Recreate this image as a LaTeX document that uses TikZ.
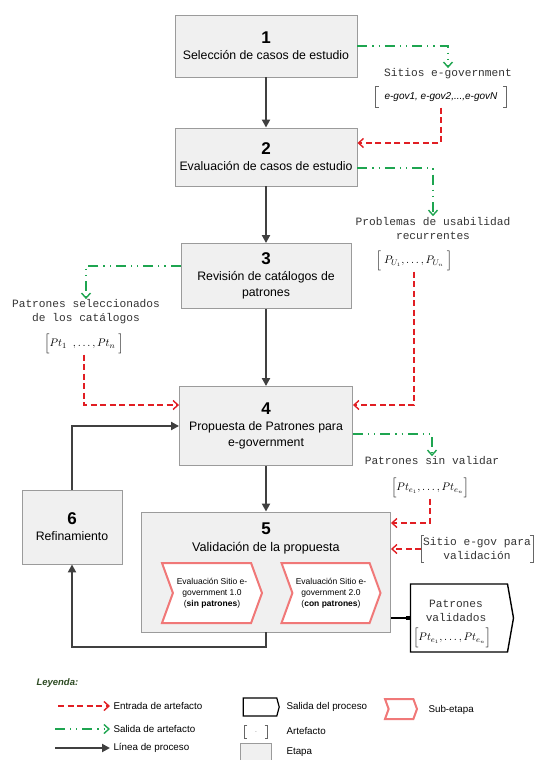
\documentclass[tikz,border=0pt]{standalone}
\usepackage{amsmath}
\usepackage{fontspec}
\setmainfont{Liberation Sans}
\setmonofont{Liberation Mono}
\usetikzlibrary{positioning, arrows.meta, calc, shapes.symbols}
\definecolor{etapagris}{RGB}{240,240,240}
\definecolor{bordegris}{RGB}{155,155,155}
\definecolor{procgris}{RGB}{64,64,64}
\definecolor{entradarojo}{RGB}{225,30,35}
\definecolor{salidaverde}{RGB}{30,165,80}
\definecolor{subrosa}{RGB}{240,120,120}
\definecolor{leyendaverde}{RGB}{45,75,35}
\newcommand{\Num}[1]{{\fontsize{17}{20}\selectfont\bfseries #1}}
\newcommand{\Corchetes}[1]{%
  \draw[black!60, line width=0.8pt] ([xshift=3pt]#1.north west) -- (#1.north west) -- (#1.south west) -- ([xshift=3pt]#1.south west);
  \draw[black!60, line width=0.8pt] ([xshift=-3pt]#1.north east) -- (#1.north east) -- (#1.south east) -- ([xshift=-3pt]#1.south east);}

\begin{document}
\begin{tikzpicture}[x=1pt, y=-1pt,
        etapa/.style={draw=bordegris, line width=0.9pt, fill=etapagris, align=center, font=\fontsize{12.3}{16}\selectfont},
        artefacto/.style={font=\fontsize{11.2}{14}\ttfamily, align=center, text=black!80, inner sep=0.5pt},
        lista/.style={inner sep=0.5pt, font=\fontsize{11}{13}\selectfont},
        proceso/.style={draw=procgris, line width=2pt, -{Triangle[length=8pt,width=8pt]}},
        entrada/.style={draw=entradarojo, line width=1.4pt, dash pattern=on 6pt off 3.5pt, -{Straight Barb[length=5pt,width=9pt]}},
        salida/.style={draw=salidaverde, line width=1.4pt, dash pattern=on 10pt off 5pt on 1.2pt off 5pt on 1.2pt off 5pt, -{Straight Barb[length=5pt,width=9pt]}},
        subetapa/.style={signal, signal from=west, signal to=east, signal pointer angle=140, draw=subrosa, line width=2pt, fill=white, align=center, inner sep=0pt, font=\fontsize{8.5}{11}\selectfont},
        salproc/.style={signal, signal to=east, signal pointer angle=160, draw=black, line width=1.4pt, fill=white},
        ley/.style={font=\fontsize{9.8}{11}\selectfont, anchor=west}]
        \useasboundingbox (0,0) rectangle (539,760);
        \node[etapa, minimum width=182pt, minimum height=62pt] (b1) at (266,46) {\Num{1}\\Selección de casos de estudio};
        \node[etapa, minimum width=182pt, minimum height=58pt] (b2) at (266,157) {\Num{2}\\Evaluación de casos de estudio};
        \node[etapa, minimum width=170pt, minimum height=65pt] (b3) at (266,276) {\Num{3}\\Revisión de catálogos de\\patrones};
        \node[etapa, minimum width=173pt, minimum height=79pt] (b4) at (266,426) {\Num{4}\\Propuesta de Patrones para\\e-government};
        \node[etapa, minimum width=249pt, minimum height=120pt] (b5) at (266,572) {};
        \node[font=\fontsize{12.6}{17}\selectfont, align=center] (t5) at (266,538) {\Num{5}\\Validación de la propuesta};
        \node[etapa, minimum width=100pt, minimum height=74pt] (b6) at (72,527) {\Num{6}\\Refinamiento};
        \node[subetapa, minimum width=100pt, minimum height=60pt] (sub1) at (212,593) {Evaluación Sitio e-\\government 1.0\\(\textbf{sin patrones})};
        \node[subetapa, minimum width=99pt, minimum height=60pt] (sub2) at (331,593) {Evaluación Sitio e-\\government 2.0\\(\textbf{con patrones})};
        \node[artefacto] (sitios) at (448,74) {Sitios e-government};
        \node[minimum width=130pt, minimum height=21pt, font=\fontsize{10}{12}\selectfont\itshape] (egov) at (441,97) {e-gov1, e-gov2,...,e-govN};
        \Corchetes{egov}
        \node[artefacto] (problemas) at (433,228) {Problemas de usabilidad\\recurrentes};
        \node[lista] (pu) at (414,261) {$\Big[\;P_{U_1},\ldots,P_{U_n}\;\Big]$};
        \node[artefacto] (patsel) at (86,312) {Patrones seleccionados\\de los catálogos};
        \node[lista] (pt) at (84,344) {$\Big[Pt_1\ \ ,\ldots,Pt_n\ \Big]$};
        \node[artefacto] (sinval) at (432,461) {Patrones sin validar};
        \node[lista] (pte) at (430,488) {$\Big[Pt_{e_1},\ldots,Pt_{e_n}\Big]$};
        \node[artefacto, inner xsep=2pt, inner ysep=2pt] (sitio) at (477,549) {Sitio e-gov para\\validación};
        \Corchetes{sitio}
        \node[salproc, minimum width=103pt, minimum height=68pt] (pval) at (459,618) {};
        \node[artefacto] (pvaltxt) at (456,611) {Patrones\\validados};
        \node[lista] (pvallist) at (452,638) {$\Big[Pt_{e_1},\ldots,Pt_{e_n}\Big]$};
        \draw[proceso] (b1) -- (b2);
        \draw[proceso] (b2) -- (b3);
        \draw[proceso] (b3) -- (b4);
        \draw[proceso] (b4) -- (b5);
        \draw[proceso] (b5.south) -- ++(0,15) -| (b6.south);
        \draw[proceso] (b6.north) |- (b4.west);
        \draw[salida] (b1.east) -| (sitios.north);
        \draw[salida] ([yshift=-11pt]b2.east) -| (problemas.north);
        \draw[salida] ([yshift=10pt]b3.west) -| (patsel.north);
        \draw[salida] ([yshift=-8pt]b4.east) -| (sinval.north);
        \draw[entrada] (egov.south) |- ([yshift=14pt]b2.east);
        \draw[entrada] (pu.south) |- ([yshift=21pt]b4.east);
        \draw[entrada] (pt.south) |- ([yshift=21pt]b4.west);
        \draw[entrada] (pte.south) |- ([yshift=49pt]b5.east);
        \draw[entrada] (sitio.west) -- (b5.east |- sitio.west);
        \draw[line width=1.2pt, -{Square[length=4pt,width=4pt]}] (b5.east |- pval.west) -- (pval.west);
        \node[font=\fontsize{9.5}{11}\selectfont\bfseries\itshape, text=leyendaverde, anchor=west] (leyenda) at (33,683) {Leyenda:};
        \node[ley] (lentrada) at (110,706) {Entrada de artefacto};
        \node[ley] (lsalida) at (110,729) {Salida de artefacto};
        \node[ley] (llinea) at (110,748) {Línea de proceso};
        \coordinate (le0) at (58,706);
        \coordinate (ls0) at (55,729);
        \coordinate (ll0) at (55,748);
        \draw[entrada] (le0) -- (lentrada.west);
        \draw[salida] (ls0) -- (lsalida.west);
        \draw[proceso] (ll0) -- (llinea.west);
        \node[salproc, line width=1.2pt, minimum width=36pt, minimum height=18pt, signal pointer angle=150] (lsalproc) at (260,707) {};
        \node[ley] (lsalproctxt) at (283,707) {Salida del proceso};
        \node[minimum width=23pt, minimum height=13pt, inner sep=0pt, font=\tiny] (lart) at (256,732) {.};
        \Corchetes{lart}
        \node[ley] (larttxt) at (283,731) {Artefacto};
        \node[etapa, minimum width=31pt, minimum height=18pt] (letapa) at (256,752) {};
        \node[ley] (letapatxt) at (283,752) {Etapa};
        \node[subetapa, minimum width=32pt, minimum height=20pt] (lsub) at (401,709) {};
        \node[ley] (lsubtxt) at (425,710) {Sub-etapa};
      \end{tikzpicture}
\end{document}
